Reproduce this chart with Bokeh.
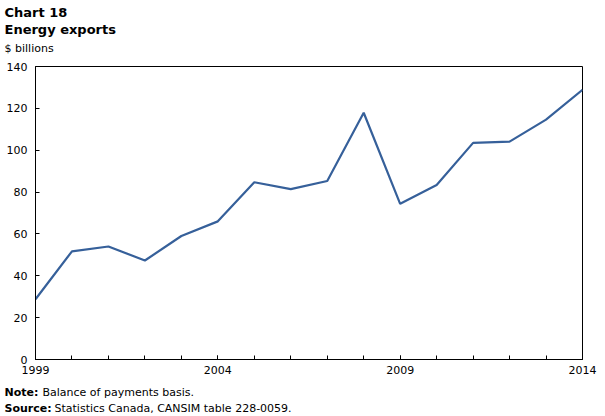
from bokeh.plotting import figure
from bokeh.models import FixedTicker, Label, Range1d
from bokeh.layouts import column
from bokeh.embed import file_html
from bokeh.resources import INLINE

years = list(range(1999, 2015))
exports = [28.8, 51.7, 54.0, 47.3, 59.0, 66.0, 84.7, 81.4, 85.3, 117.9,
           74.4, 83.4, 103.5, 104.1, 114.6, 128.9]
x_tick_labels = [1999, 2004, 2009, 2014]
y_ticks = [0, 20, 40, 60, 80, 100, 120, 140]

FONT = "DejaVu Sans"
W = 605
HEADER_H = 58
MAIN_H = 322
FOOTER_H = 36


def text_panel(height):
    f = figure(width=W, height=height, output_backend="svg", toolbar_location=None,
               x_range=Range1d(0, W), y_range=Range1d(0, height),
               min_border=0, min_border_left=0, min_border_right=0,
               min_border_top=0, min_border_bottom=0)
    f.axis.visible = False
    f.grid.visible = False
    f.outline_line_color = None
    f.background_fill_color = "white"
    f.border_fill_color = "white"
    f.frame_align = False
    return f


def add_label(f, height, cx, cy_top, text, bold=False, size="11px"):
    f.add_layout(Label(x=cx, y=height - cy_top, x_units="screen", y_units="screen",
                       text=text, text_font=FONT, text_font_size=size,
                       text_font_style="bold" if bold else "normal",
                       text_color="black", text_baseline="top", text_align="left"))


header = text_panel(HEADER_H)
add_label(header, HEADER_H, 4, 4, "Chart 18", bold=True, size="13px")
add_label(header, HEADER_H, 4, 21, "Energy exports", bold=True, size="13px")
add_label(header, HEADER_H, 4, 41, "$ billions")

p = figure(width=W, height=MAIN_H, output_backend="svg", toolbar_location=None,
           x_range=Range1d(1999, 2014), y_range=Range1d(0, 140),
           min_border_left=35, min_border_right=23, min_border_top=8,
           min_border_bottom=21)
p.frame_align = False
p.background_fill_color = "white"
p.border_fill_color = "white"
p.outline_line_color = "black"
p.outline_line_width = 1
p.grid.visible = False

p.line(years, exports, line_color="#36609A", line_width=2.2)

p.xaxis.ticker = FixedTicker(ticks=x_tick_labels, minor_ticks=years)
p.yaxis.ticker = FixedTicker(ticks=y_ticks)
for ax in (p.xaxis[0], p.yaxis[0]):
    ax.axis_line_color = "black"
    ax.major_tick_in = 4
    ax.major_tick_out = 0
    ax.minor_tick_in = 4
    ax.minor_tick_out = 0
    ax.major_tick_line_color = "black"
    ax.minor_tick_line_color = "black"
    ax.major_label_text_font = FONT
    ax.major_label_text_font_size = "11px"
    ax.major_label_text_color = "black"
p.yaxis.minor_tick_line_color = None
p.xaxis.major_label_standoff = 6
p.yaxis.major_label_standoff = 8

footer = text_panel(FOOTER_H)
add_label(footer, FOOTER_H, 4, 5, "Note:", bold=True)
add_label(footer, FOOTER_H, 42, 5, "Balance of payments basis.")
add_label(footer, FOOTER_H, 4, 21, "Source:", bold=True)
add_label(footer, FOOTER_H, 54, 21, "Statistics Canada, CANSIM table 228-0059.")

layout = column(header, p, footer, spacing=0)
open("out.html", "w").write(file_html(layout, INLINE))
